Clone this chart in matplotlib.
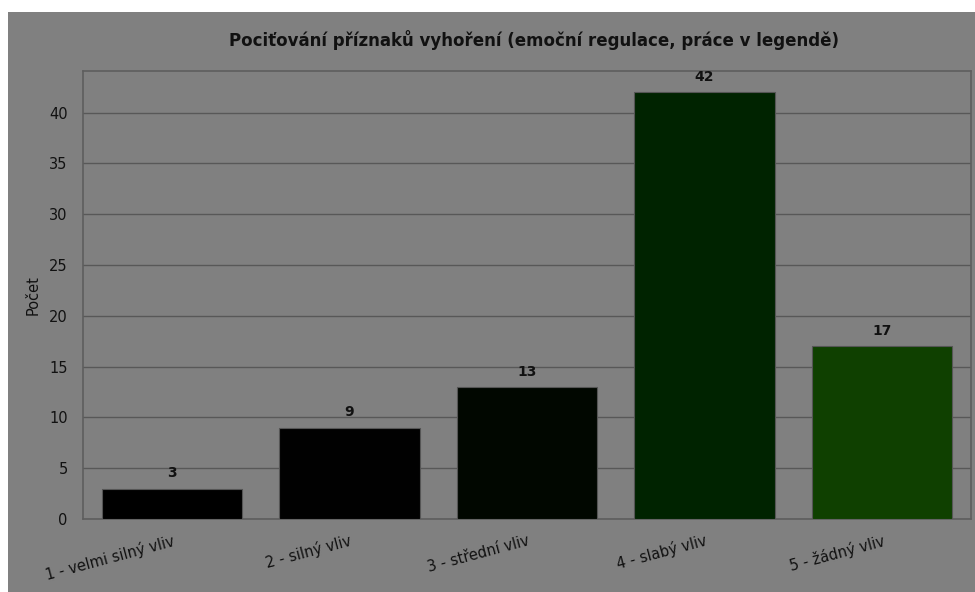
import matplotlib.pyplot as plt
from matplotlib.patches import Rectangle
from matplotlib.transforms import ScaledTranslation

categories = ["1 - velmi silný vliv", "2 - silný vliv", "3 - střední vliv",
              "4 - slabý vliv", "5 - žádný vliv"]
counts = [3, 9, 13, 42, 17]
bar_colors = ["#000000", "#010101", "#010700", "#002300", "#0f4000"]

title = "Pociťování příznaků vyhoření (emoční regulace, práce v legendě)"

fig = plt.figure(figsize=(9.75, 5.92), dpi=100, facecolor="white")
# dimmed backdrop
fig.patches.append(Rectangle((8 / 975, 0), 1, 1 - 12 / 592, transform=fig.transFigure,
                             facecolor="#808080", edgecolor="none", zorder=-10))

ax = fig.add_axes([83 / 975, 1 - 519 / 592, 888 / 975, 448 / 592])
ax.set_facecolor("#808080")

x = range(len(categories))
bars = ax.bar(x, counts, width=0.79, color=bar_colors, edgecolor="#555555",
              linewidth=0.8, zorder=3)
for b, v in zip(bars, counts):
    ax.annotate(str(v), (b.get_x() + b.get_width() / 2, v), xytext=(0, 6),
                textcoords="offset points", ha="center", va="bottom",
                fontsize=10, fontweight="bold", color="#111111")

ax.set_xlim(-0.5, 4.5)
ax.set_ylim(0, 44.1)
ax.set_yticks([0, 5, 10, 15, 20, 25, 30, 35, 40])
ax.set_xticks(list(x))
ax.set_xticklabels(categories, rotation=15, ha="right", rotation_mode="anchor",
                   fontsize=10.5, color="#111111")
shift = ScaledTranslation(-4 / 100, -2 / 100, fig.dpi_scale_trans)
for lbl in ax.get_xticklabels():
    lbl.set_transform(lbl.get_transform() + shift)
ax.tick_params(axis="y", length=0, pad=11, labelsize=10.5, labelcolor="#111111")
ax.tick_params(axis="x", length=0, pad=10)
ax.yaxis.grid(True, color="#585858", linewidth=1.0, zorder=0)
ax.set_axisbelow(True)
for s in ax.spines.values():
    s.set_color("#5e5e5e")
    s.set_linewidth(1.2)

ax.set_ylabel("Počet", fontsize=10.5, color="#111111", labelpad=6)
fig.text(0.548, 1 - 40 / 592, title, ha="center", va="center",
         fontsize=12, fontweight="bold", color="#111111")

fig.savefig("out.png", dpi=100, facecolor=fig.get_facecolor())
